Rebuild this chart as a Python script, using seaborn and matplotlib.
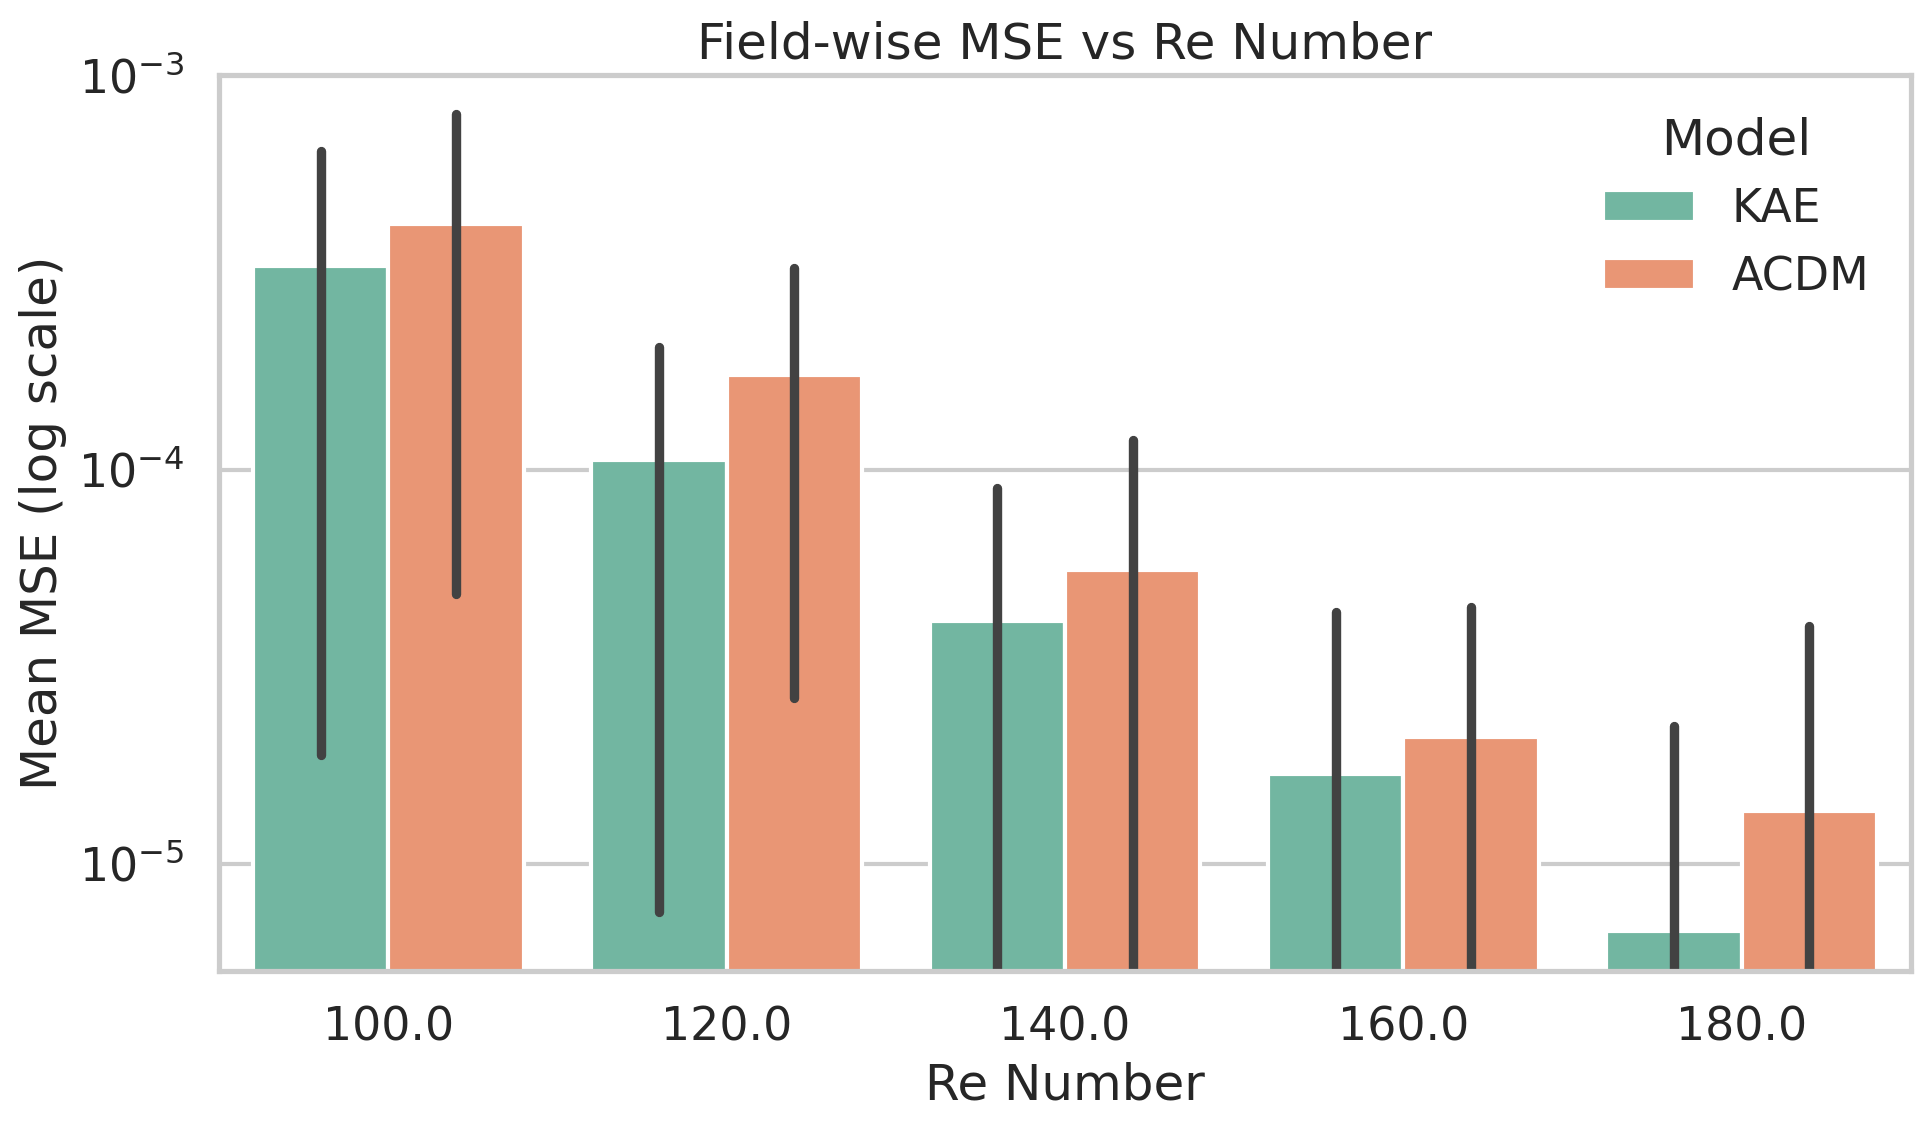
import matplotlib
matplotlib.use("Agg")
import matplotlib.pyplot as plt
import seaborn as sns
import pandas as pd

# values (log axis)
re_numbers = ["100.0", "120.0", "140.0", "160.0", "180.0"]
models = ["KAE", "ACDM"]
kae_mean = [3.28e-4, 1.055e-4, 4.13e-5, 1.69e-5, 6.78e-6]
acdm_mean = [4.18e-4, 1.735e-4, 5.55e-5, 2.10e-5, 1.36e-5]
# error bar ends (lower ends below the axis are clipped in the original)
kae_lo = [1.89e-5, 7.56e-6, 1e-7, 1e-7, 1e-7]
kae_hi = [6.43e-4, 2.04e-4, 8.98e-5, 4.35e-5, 2.24e-5]
acdm_lo = [4.84e-5, 2.63e-5, 1e-7, 1e-7, 1e-7]
acdm_hi = [7.98e-4, 3.25e-4, 1.19e-4, 4.48e-5, 4.02e-5]

df = pd.DataFrame({
    "Re": re_numbers * 2,
    "MSE": kae_mean + acdm_mean,
    "Model": ["KAE"] * 5 + ["ACDM"] * 5,
})
err_lo = {"KAE": kae_lo, "ACDM": acdm_lo}
err_hi = {"KAE": kae_hi, "ACDM": acdm_hi}

sns.set_theme(style="whitegrid", context="talk")
fig = plt.figure(figsize=(9.65, 5.655), dpi=200)
ax = fig.add_axes([0.1135, 0.1415, 0.8765, 0.7922])

sns.barplot(data=df, x="Re", y="MSE", hue="Model", hue_order=models,
            palette="Set2", errorbar=None, ax=ax)

# error bars at the bar centres
for model, cont in zip(models, ax.containers):
    for i, bar in enumerate(cont):
        xc = bar.get_x() + bar.get_width() / 2
        ax.plot([xc, xc], [err_lo[model][i], err_hi[model][i]],
                color=".26", linewidth=3.375, solid_capstyle="round")

ax.set_yscale("log")
ax.set_ylim(5.36e-6, 1e-3)
ax.set_xlim(-0.5, 4.5)
ax.set_title("Field-wise MSE vs Re Number")
ax.set_xlabel("Re Number")
ax.set_ylabel("Mean MSE (log scale)")
ax.legend(title="Model", loc="upper right", frameon=False)

fig.savefig("out.png", dpi=200)
